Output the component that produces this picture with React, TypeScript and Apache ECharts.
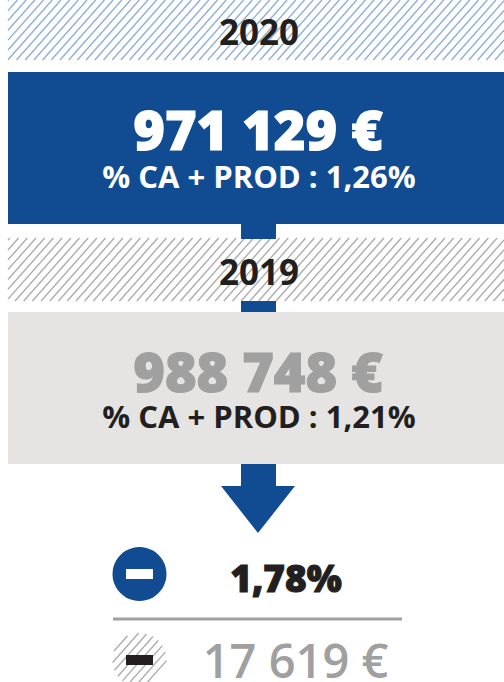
import React, { useEffect, useRef } from "react";
import * as echarts from "echarts";

const years = ["2020", "2019"];
const amounts = ["971 129 €", "988 748 €"];
const ratios = ["% CA + PROD : 1,26%", "% CA + PROD : 1,21%"];
const deltaPercent = "1,78%";
const deltaAmount = "17 619 €";

const BLUE = "#114c93";
const DARK = "#231f20";
const GREY = "#a0a0a0";
const LIGHT = "#e5e4e2";
const HATCH_BLUE = "#8fb0d4";
const HATCH_GREY = "#adadad";
const FONT = '"Open Sans", sans-serif';
const STEP = 8.7;
const SLOPE = 1.13;

function hatchRect(x0: number, y0: number, x1: number, y1: number, color: string, phase: number) {
  const out: any[] = [];
  for (let c = phase; c < 560 + 800; c += STEP) {
    let ax = c - y1 / SLOPE, ay = y1, bx = c - y0 / SLOPE, by = y0;
    if (bx < x0 || ax > x1) continue;
    if (ax < x0) { ax = x0; ay = (c - x0) * SLOPE; }
    if (bx > x1) { bx = x1; by = (c - x1) * SLOPE; }
    out.push({ type: "line", silent: true, shape: { x1: ax, y1: ay, x2: bx, y2: by }, style: { stroke: color, lineWidth: 1.4 } });
  }
  return out;
}

function hatchCircle(cx: number, cy: number, r: number, color: string) {
  const out: any[] = [];
  const n = Math.hypot(1, SLOPE);
  const perp = STEP * SLOPE / n;
  for (let d = -r + 2; d < r; d += perp) {
    const half = Math.sqrt(r * r - d * d);
    const px = cx + d * SLOPE / n, py = cy + d / n;
    const ux = 1 / n, uy = -SLOPE / n;
    out.push({ type: "line", silent: true, shape: { x1: px - ux * half, y1: py - uy * half, x2: px + ux * half, y2: py + uy * half }, style: { stroke: color, lineWidth: 1.4 } });
  }
  return out;
}

function rect(x: number, y: number, width: number, height: number, fill: string) {
  return { type: "rect", silent: true, shape: { x, y, width, height }, style: { fill } };
}

function label(text: string, x: number, y: number, size: number, weight: number, fill: string, thick = 0) {
  return {
    type: "text", silent: true, x, y,
    style: { text, x: 0, y: 0, fill, font: `${weight} ${size}px ${FONT}`, align: "center", verticalAlign: "middle", stroke: thick ? fill : undefined, lineWidth: thick },
  };
}

export default function App() {
  const ref = useRef<HTMLDivElement>(null);
  useEffect(() => {
    const chart = echarts.init(ref.current!, undefined, { renderer: "svg" });
    chart.setOption({
      animation: false,
      graphic: {
        elements: [
          ...hatchRect(8, 0, 504, 60, HATCH_BLUE, 0),
          label(years[0], 259, 31, 35, 700, DARK),
          rect(8, 72, 496, 152, BLUE),
          label(amounts[0], 258, 129, 54, 800, "#ffffff", 1.2),
          label(ratios[0], 259, 176, 31, 700, "#ffffff"),
          ...hatchRect(8, 238, 504, 301, HATCH_GREY, 3),
          rect(241, 224, 35, 15, BLUE),
          label(years[1], 259, 271, 35, 700, DARK),
          rect(241, 301, 35, 11, BLUE),
          rect(8, 312, 496, 152, LIGHT),
          label(amounts[1], 258, 371, 54, 800, GREY, 1.2),
          label(ratios[1], 259, 416, 31, 700, DARK),
          { type: "polygon", silent: true, shape: { points: [[241, 464], [276, 464], [276, 486], [295, 486], [258, 533], [221, 486], [241, 486]] }, style: { fill: BLUE } },
          { type: "circle", silent: true, shape: { cx: 139.5, cy: 574, r: 27 }, style: { fill: BLUE } },
          rect(126, 569, 27, 10, "#ffffff"),
          label(deltaPercent, 286, 577, 37, 800, DARK, 1),
          { type: "line", silent: true, shape: { x1: 113, y1: 619, x2: 402, y2: 619 }, style: { stroke: GREY, lineWidth: 3 } },
          ...hatchCircle(139.5, 660, 27, HATCH_GREY),
          rect(126, 655, 27, 10, DARK),
          label(deltaAmount, 295.5, 660, 47, 600, GREY),
        ],
      },
    });
    return () => chart.dispose();
  }, []);
  return <div ref={ref} style={{ position: "absolute", left: 0, top: 0, width: 504, height: 682, background: "#fff" }} />;
}
